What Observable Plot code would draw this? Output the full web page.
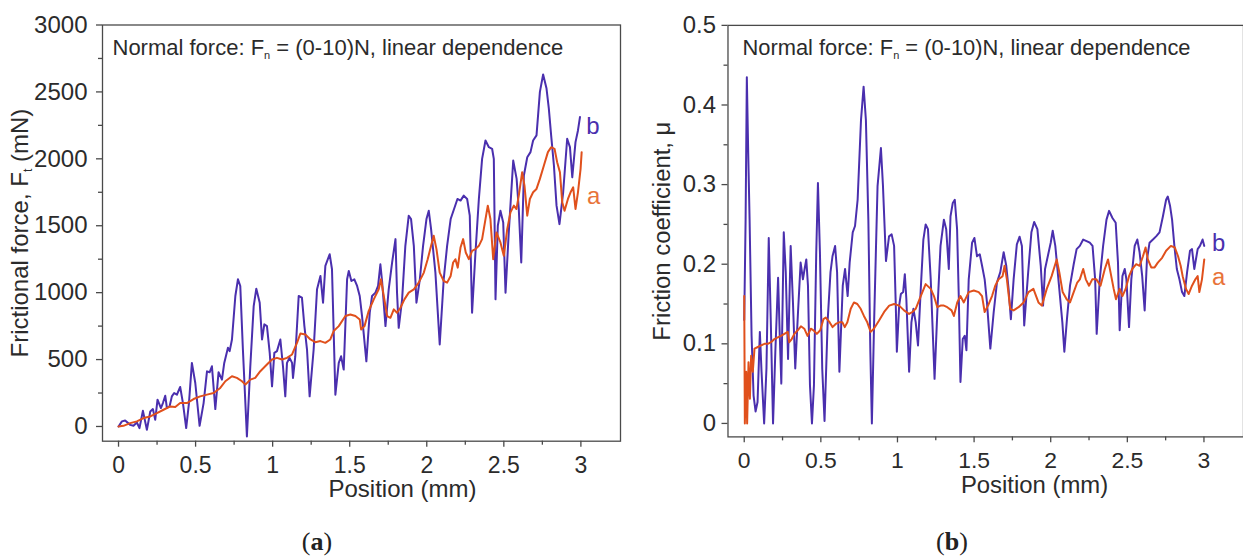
<!DOCTYPE html>
<html>
<head>
<meta charset="utf-8">
<script src="https://cdn.jsdelivr.net/npm/d3@7"></script>
<script src="https://cdn.jsdelivr.net/npm/@observablehq/plot@0.6"></script>
<style>
  html, body { margin: 0; padding: 0; background: #fff; }
  body { width: 1243px; height: 558px; overflow: hidden; position: relative; }
  .panel { position: absolute; top: 0; }
  .cap { position: absolute; top: 527px; font-family: "Liberation Serif", "DejaVu Serif", serif; font-size: 26px; color: #222; transform: translateX(-50%); }
  .cap b { font-weight: bold; }
</style>
</head>
<body>
<div id="pa" class="panel" style="left:0px"></div>
<div id="pb" class="panel" style="left:620px"></div>
<div class="cap" style="left:317px">(<b>a</b>)</div>
<div class="cap" style="left:952px">(<b>b</b>)</div>
<script>
// ---------- data ----------
const xTicks = [0, 0.5, 1, 1.5, 2, 2.5, 3];
const xMinorTicks = [0.25, 0.75, 1.25, 1.75, 2.25, 2.75];
const forceTicks = [0, 500, 1000, 1500, 2000, 2500, 3000];
const forceMinorTicks = [250, 750, 1250, 1750, 2250, 2750];
const muTicks = [0, 0.1, 0.2, 0.3, 0.4, 0.5];
const muMinorTicks = [0.05, 0.15, 0.25, 0.35, 0.45];

const annotation = "Normal force: F_n = (0-10)N, linear dependence";
const forceLabel = "Frictional force, F_t (mN)";
const muLabel = "Friction coefficient, μ";
const xLabel = "Position (mm)";
const seriesNames = ["a", "b"];

// panel (a): frictional force, curve b
const forceBPos = [0,0.022,0.043,0.076,0.097,0.119,0.136,0.158,0.184,0.206,0.223,0.238,0.253,0.275,0.288,0.303,0.314,0.331,0.346,0.361,0.379,0.400,0.418,0.439,0.457,0.476,0.498,0.526,0.552,0.574,0.591,0.606,0.628,0.649,0.671,0.686,0.710,0.721,0.736,0.758,0.775,0.790,0.807,0.833,0.855,0.877,0.894,0.916,0.931,0.946,0.963,0.981,0.996,1.011,1.028,1.050,1.067,1.082,1.093,1.110,1.126,1.132,1.147,1.169,1.190,1.206,1.223,1.240,1.266,1.288,1.310,1.327,1.342,1.370,1.385,1.407,1.429,1.444,1.461,1.483,1.494,1.511,1.530,1.548,1.565,1.580,1.608,1.630,1.645,1.667,1.684,1.699,1.710,1.732,1.753,1.775,1.797,1.807,1.818,1.840,1.861,1.883,1.898,1.916,1.933,1.955,1.976,1.998,2.013,2.028,2.056,2.084,2.110,2.132,2.155,2.177,2.199,2.219,2.240,2.262,2.279,2.294,2.316,2.338,2.359,2.381,2.403,2.424,2.435,2.446,2.461,2.478,2.496,2.511,2.532,2.561,2.583,2.597,2.613,2.630,2.652,2.673,2.690,2.712,2.734,2.755,2.777,2.792,2.807,2.825,2.842,2.861,2.885,2.911,2.929,2.944,2.965,2.981,2.994];
const forceBVal = [0,38,45,12,5,30,-12,117,-25,112,130,50,200,138,175,230,138,150,225,250,238,295,175,-12,175,475,325,5,175,412,405,450,130,405,350,475,588,563,650,975,1100,1050,575,-75,450,900,1030,925,650,763,750,550,300,550,563,650,450,225,475,513,475,363,525,975,963,750,575,225,575,1025,1125,925,1200,1287,1175,238,475,525,425,1100,1162,1087,1100,1050,975,825,487,850,975,1000,1050,1212,1087,750,1025,1225,1400,1000,737,950,1350,1575,1550,1350,925,1100,1350,1550,1612,1475,1150,613,1100,1350,1550,1625,1700,1688,1725,1700,1575,850,1300,1700,2000,2137,2087,2075,2000,950,1500,1612,1525,1000,1450,1987,1850,1625,1225,1875,2012,2050,2137,2175,2500,2630,2525,2375,2175,1950,1650,1512,1750,2150,2087,1862,2125,2212,2312];

// panel (a): frictional force, curve a
const forceAPos = [0,0.032,0.076,0.119,0.162,0.206,0.249,0.292,0.335,0.368,0.400,0.444,0.487,0.530,0.574,0.617,0.660,0.693,0.736,0.768,0.801,0.823,0.855,0.887,0.920,0.963,0.996,1.028,1.061,1.093,1.126,1.158,1.180,1.212,1.245,1.277,1.310,1.342,1.374,1.396,1.429,1.472,1.504,1.537,1.565,1.574,1.596,1.623,1.656,1.688,1.703,1.721,1.743,1.764,1.786,1.807,1.829,1.855,1.883,1.916,1.948,1.981,2.006,2.028,2.045,2.063,2.084,2.110,2.132,2.155,2.171,2.186,2.201,2.219,2.236,2.253,2.273,2.294,2.316,2.338,2.359,2.381,2.396,2.413,2.431,2.452,2.478,2.500,2.522,2.543,2.565,2.582,2.597,2.619,2.634,2.652,2.669,2.690,2.712,2.734,2.760,2.786,2.807,2.829,2.846,2.864,2.879,2.894,2.916,2.933,2.950,2.965,2.981,2.998,3.005];
const forceAVal = [0,5,25,38,63,75,100,125,150,145,175,175,205,225,238,250,288,338,375,363,338,313,350,363,413,463,500,513,500,513,538,625,695,688,650,630,638,625,650,713,750,825,837,825,800,725,750,862,950,1025,1100,975,825,812,875,850,887,950,1000,1025,1075,1150,1250,1350,1425,1325,1150,1087,1075,1125,1225,1250,1187,1337,1400,1300,1250,1312,1325,1350,1400,1550,1650,1550,1250,1450,1375,1275,1475,1600,1650,1625,1725,1900,1800,1575,1700,1750,1775,1850,1950,2050,2087,2075,1975,1900,1675,1612,1700,1750,1787,1625,1750,1925,2050];

// panel (b): friction coefficient, curve b
const muBPos = [0,0.009,0.017,0.026,0.035,0.048,0.061,0.074,0.087,0.102,0.113,0.130,0.145,0.160,0.173,0.188,0.203,0.221,0.232,0.242,0.258,0.271,0.286,0.303,0.318,0.333,0.351,0.368,0.383,0.394,0.405,0.416,0.429,0.442,0.455,0.470,0.481,0.494,0.509,0.524,0.545,0.563,0.576,0.593,0.606,0.621,0.643,0.658,0.675,0.688,0.708,0.723,0.740,0.762,0.779,0.794,0.810,0.823,0.833,0.848,0.870,0.892,0.905,0.925,0.945,0.962,0.978,0.989,0.996,1.011,1.022,1.037,1.048,1.058,1.076,1.091,1.104,1.119,1.134,1.152,1.169,1.184,1.199,1.217,1.232,1.242,1.260,1.281,1.303,1.318,1.335,1.346,1.361,1.374,1.389,1.400,1.411,1.426,1.439,1.450,1.465,1.487,1.502,1.519,1.537,1.552,1.569,1.584,1.606,1.628,1.649,1.671,1.693,1.710,1.725,1.740,1.758,1.779,1.797,1.812,1.827,1.853,1.874,1.892,1.913,1.935,1.950,1.963,2.000,2.013,2.030,2.054,2.076,2.089,2.106,2.126,2.150,2.169,2.190,2.212,2.234,2.255,2.273,2.290,2.300,2.320,2.342,2.364,2.381,2.403,2.424,2.439,2.450,2.468,2.483,2.494,2.511,2.526,2.548,2.565,2.580,2.597,2.613,2.628,2.645,2.667,2.688,2.710,2.732,2.753,2.764,2.779,2.792,2.807,2.823,2.840,2.857,2.872,2.890,2.909,2.922,2.937,2.959,2.974,2.991,3.002];
const muBVal = [0.13,0.256,0.435,0.34,0.256,0.11,0.035,0.015,0.027,0.115,0.065,0,0.069,0.233,0.131,0,0.09,0.183,0.11,0.05,0.24,0.19,0.081,0.223,0.152,0.069,0.14,0.202,0.181,0.194,0.206,0.173,0.048,0,0.048,0.215,0.302,0.215,0.069,0.003,0.131,0.19,0.21,0.223,0.19,0.065,0.173,0.194,0.16,0.202,0.24,0.248,0.281,0.381,0.423,0.381,0.256,0.09,0,0.131,0.298,0.346,0.30,0.204,0.235,0.2375,0.223,0.148,0.09,0.148,0.1625,0.165,0.1875,0.156,0.065,0.127,0.144,0.127,0.098,0.169,0.231,0.25,0.244,0.181,0.106,0.056,0.14,0.223,0.256,0.244,0.194,0.26,0.277,0.281,0.244,0.16,0.052,0.106,0.11,0.092,0.181,0.227,0.233,0.21,0.2125,0.198,0.181,0.152,0.094,0.14,0.177,0.19,0.215,0.198,0.169,0.131,0.181,0.225,0.2346,0.223,0.123,0.19,0.24,0.253,0.244,0.198,0.148,0.194,0.227,0.242,0.223,0.173,0.127,0.09,0.131,0.173,0.2,0.219,0.223,0.231,0.229,0.227,0.223,0.181,0.1125,0.181,0.223,0.256,0.267,0.258,0.252,0.202,0.117,0.185,0.194,0.181,0.121,0.181,0.223,0.231,0.215,0.185,0.142,0.206,0.227,0.231,0.235,0.24,0.26,0.281,0.285,0.273,0.256,0.223,0.194,0.181,0.165,0.16,0.19,0.217,0.219,0.194,0.219,0.223,0.231,0.223];

// panel (b): friction coefficient, curve a
const muAPos = [0,0.004,0.013,0.019,0.028,0.037,0.045,0.056,0.067,0.089,0.110,0.132,0.154,0.175,0.197,0.219,0.240,0.262,0.284,0.294,0.310,0.327,0.349,0.370,0.392,0.413,0.435,0.452,0.474,0.496,0.517,0.532,0.554,0.576,0.597,0.619,0.641,0.656,0.673,0.695,0.716,0.738,0.760,0.781,0.803,0.825,0.846,0.879,0.913,0.946,0.978,1.011,1.043,1.076,1.097,1.119,1.152,1.184,1.217,1.238,1.260,1.281,1.303,1.325,1.353,1.368,1.390,1.411,1.433,1.465,1.498,1.530,1.552,1.569,1.591,1.617,1.638,1.660,1.686,1.699,1.714,1.736,1.758,1.790,1.823,1.855,1.887,1.920,1.942,1.974,2.006,2.039,2.056,2.078,2.104,2.126,2.150,2.173,2.190,2.212,2.229,2.250,2.271,2.298,2.325,2.353,2.374,2.390,2.411,2.426,2.450,2.468,2.489,2.511,2.532,2.558,2.580,2.602,2.619,2.634,2.656,2.678,2.699,2.727,2.753,2.784,2.810,2.831,2.848,2.861,2.883,2.900,2.922,2.944,2.959,2.970,2.987,3.002];
const muAVal = [0.16,0,0.065,0,0.077,0.031,0.085,0.065,0.094,0.096,0.098,0.1,0.1,0.102,0.106,0.108,0.11,0.1125,0.115,0.102,0.106,0.1125,0.117,0.122,0.119,0.11,0.119,0.117,0.1125,0.117,0.131,0.133,0.128,0.121,0.125,0.127,0.127,0.121,0.127,0.144,0.152,0.15,0.144,0.135,0.127,0.115,0.119,0.129,0.14,0.148,0.15,0.148,0.142,0.1375,0.14,0.144,0.16,0.175,0.169,0.16,0.146,0.148,0.148,0.146,0.142,0.135,0.152,0.16,0.152,0.165,0.167,0.165,0.16,0.14,0.148,0.16,0.173,0.181,0.185,0.198,0.181,0.144,0.142,0.146,0.152,0.165,0.169,0.152,0.148,0.169,0.185,0.206,0.19,0.165,0.156,0.152,0.165,0.177,0.181,0.194,0.181,0.173,0.181,0.181,0.173,0.194,0.206,0.19,0.169,0.156,0.169,0.16,0.169,0.185,0.194,0.2,0.198,0.21,0.221,0.206,0.196,0.196,0.202,0.208,0.217,0.223,0.221,0.21,0.198,0.185,0.169,0.1625,0.173,0.181,0.185,0.165,0.181,0.206];

// ---------- drawing ----------
const PURPLE = "#4a2fae";
const ORANGE = "#e0501c";
const ORANGE_LABEL = "#e8733a";
const INK = "#2b2b2b";
const FRAME = "#4a4a4a";

const zip = (xs, ys) => xs.map((x, i) => ({x, y: ys[i]}));

function addSubscripts(svg) {
  const ns = "http://www.w3.org/2000/svg";
  svg.querySelectorAll("text").forEach(el => {
    if (el.querySelector("tspan")) {
      el.querySelectorAll("tspan").forEach(t => fix(t));
    } else fix(el);
  });
  function fix(el) {
    const s = el.textContent;
    const m = s.match(/^(.*?F)_(\w)(.*)$/);
    if (!m) return;
    el.textContent = "";
    el.appendChild(document.createTextNode(m[1]));
    const sub = document.createElementNS(ns, "tspan");
    sub.setAttribute("font-size", "0.5em");
    sub.setAttribute("dy", "4");
    sub.textContent = m[2];
    el.appendChild(sub);
    const rest = document.createElementNS(ns, "tspan");
    rest.setAttribute("dy", "-4");
    rest.textContent = m[3];
    el.appendChild(rest);
  }
}

function panel(o) {
  const b = zip(o.bx, o.by), a = zip(o.ax, o.ay);
  const fmt = d => String(d);
  const chart = Plot.plot({
    width: o.width, height: 510,
    marginLeft: o.marginLeft, marginRight: o.marginRight,
    marginTop: o.marginTop, marginBottom: o.marginBottom,
    style: {fontFamily: "'Liberation Sans', Arial, sans-serif", fontSize: "23px", color: INK, background: "transparent", overflow: "visible"},
    x: {domain: o.xDomain},
    y: {domain: o.yDomain},
    marks: [
      Plot.axisX({ticks: xTicks, tickSize: 6, tickPadding: 9, tickFormat: fmt, label: null, stroke: FRAME, strokeWidth: 1.3}),
      Plot.axisX({ticks: xMinorTicks, tickSize: 4, text: null, label: null, stroke: FRAME, strokeWidth: 1.3}),
      Plot.axisY({ticks: o.yTicks, tickSize: 6, tickPadding: o.tickPadY, tickFormat: fmt, stroke: FRAME, strokeWidth: 1.3,
                  label: o.yLabel, labelAnchor: "center", labelArrow: "none", labelOffset: o.labelOffset, fontSize: 24}),
      Plot.axisY({ticks: o.yMinor, tickSize: 4, text: null, label: null, stroke: FRAME, strokeWidth: 1.3}),
      Plot.line(b, {x: "x", y: "y", stroke: PURPLE, strokeWidth: 2, strokeLinejoin: "round"}),
      Plot.line(a, {x: "x", y: "y", stroke: ORANGE, strokeWidth: 2, strokeLinejoin: "round"}),
      Plot.text(b, Plot.selectLast({x: "x", y: "y", text: () => seriesNames[1], fill: PURPLE, dx: o.bdx, dy: o.bdy, textAnchor: "middle", lineAnchor: "middle", fontSize: 24})),
      Plot.text(a, Plot.selectLast({x: "x", y: "y", text: () => seriesNames[0], fill: ORANGE_LABEL, dx: o.adx, dy: o.ady, textAnchor: "middle", lineAnchor: "middle", fontSize: 24})),
      Plot.text([annotation], {text: d => d, frameAnchor: "top-left", dx: o.annDx, dy: 30, lineAnchor: "bottom", textAnchor: "start", fontSize: 22, fill: INK}),
      Plot.text([xLabel], {text: d => d, frameAnchor: "bottom-left", dx: o.xLabelDx, dy: 56, lineAnchor: "bottom", textAnchor: "middle", fontSize: 24, fill: INK}),
      Plot.frame({stroke: FRAME, strokeWidth: 1.3})
    ]
  });
  addSubscripts(chart);
  return chart;
}

document.getElementById("pa").appendChild(panel({
  width: 621, marginLeft: 102, marginRight: 1, marginTop: 24.5, marginBottom: 69.3,
  xDomain: [-0.104, 3.257], yDomain: [-110, 3000],
  yTicks: forceTicks, yMinor: forceMinorTicks, yLabel: forceLabel, labelOffset: 92, tickPadY: 9,
  bx: forceBPos, by: forceBVal, ax: forceAPos, ay: forceAVal,
  bdx: 13, bdy: 9.5, adx: 12, ady: 44, annDx: 10, xLabelDx: 300
}));

document.getElementById("pb").appendChild(panel({
  width: 626, marginLeft: 108, marginRight: 0, marginTop: 25, marginBottom: 71.5,
  xDomain: [-0.106, 3.258], yDomain: [-0.0169, 0.5],
  yTicks: muTicks, yMinor: muMinorTicks, yLabel: muLabel, labelOffset: 75, tickPadY: 6,
  bx: muBPos, by: muBVal, ax: muAPos, ay: muAVal,
  bdx: 14.5, bdy: -3, adx: 14.5, ady: 18, annDx: 14.5, xLabelDx: 308
}));
</script>
</body>
</html>
